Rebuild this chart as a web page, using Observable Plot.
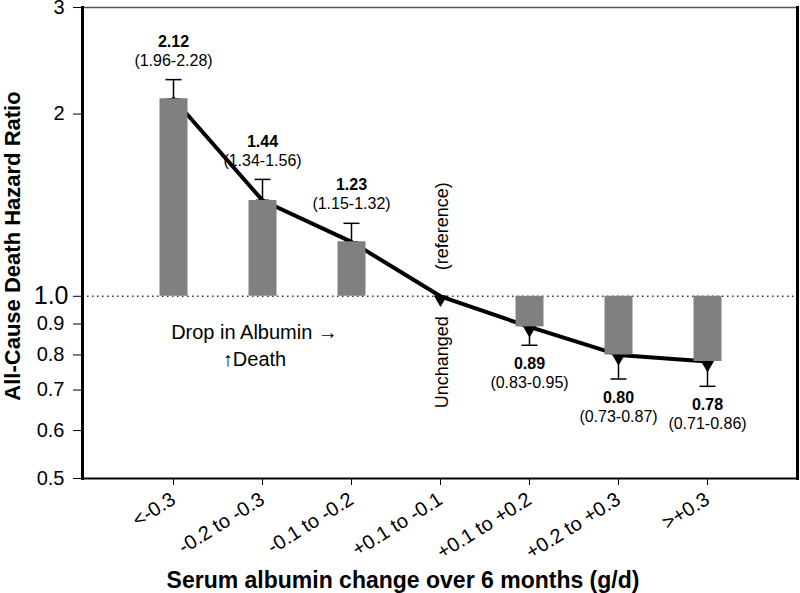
<!DOCTYPE html>
<html>
<head>
<meta charset="utf-8">
<script src="https://cdn.jsdelivr.net/npm/d3@7"></script>
<script src="https://cdn.jsdelivr.net/npm/@observablehq/plot@0.6"></script>
<style>
  html, body { margin: 0; padding: 0; background: #fff; }
  #chart svg { display: block; }
</style>
</head>
<body>
<div id="chart"></div>
<script>
// ---- data ----
const categories = ["<-0.3", "-0.2 to -0.3", "-0.1 to -0.2", "+0.1 to -0.1", "+0.1 to +0.2", "+0.2 to +0.3", ">+0.3"];
const hazardRatio = [2.12, 1.44, 1.23, 1.0, 0.89, 0.80, 0.78];
const ciLow  = [1.96, 1.34, 1.15, null, 0.83, 0.73, 0.71];
const ciHigh = [2.28, 1.56, 1.32, null, 0.95, 0.87, 0.86];
const yTicks = [0.5, 0.6, 0.7, 0.8, 0.9, 1, 2, 3];
const referenceCategory = "+0.1 to -0.1";
const referenceLabel = "(reference)";
const unchangedLabel = "Unchanged";
const noteCategory = "-0.2 to -0.3";
const noteText = "Drop in Albumin \u2192\n\u2191Death";
const xTitle = "Serum albumin change over 6 months (g/d)";
const yTitle = "All-Cause Death Hazard Ratio";

// ---- derived tables ----
const data = categories.map((c, i) => ({cat: c, hr: hazardRatio[i], lo: ciLow[i], hi: ciHigh[i]}));
const bars = data.filter(d => d.lo != null);
const above = bars.filter(d => d.hr > 1);
const below = bars.filter(d => d.hr < 1);
const whiskerEnd = d => d.hr > 1 ? d.hi : d.lo;
const ciText = d => `(${d.lo.toFixed(2)}-${d.hi.toFixed(2)})`;

// horizontal cap symbol for error bars
const capSymbol = {
  draw(context, size) {
    const h = Math.sqrt(size / Math.PI);
    context.moveTo(-h, 0);
    context.lineTo(h, 0);
  }
};

const font = "'Liberation Sans', Arial, Helvetica, sans-serif";

const chart = Plot.plot({
  width: 800,
  height: 593,
  marginLeft: 82,
  marginRight: 3,
  marginTop: 7,
  marginBottom: 115,
  style: {fontFamily: font, background: "#fff", color: "#000"},
  x: {type: "point", domain: categories, padding: 1},
  y: {type: "log", domain: [0.5, 3]},
  marks: [
    Plot.ruleY([1], {stroke: "#333", strokeWidth: 1.5, strokeDasharray: "1.5,3.5"}),
    Plot.line(data, {x: "cat", y: "hr", stroke: "#000", strokeWidth: 4}),
    Plot.dot(data, {x: "cat", y: "hr", symbol: "triangle", r: 5, fill: "#000", rotate: 180, dy: 3}),
    Plot.ruleX(bars, {x: "cat", y1: () => 1, y2: "hr", stroke: "#808080", strokeWidth: 28}),
    Plot.ruleX(bars, {x: "cat", y1: "hr", y2: whiskerEnd, stroke: "#000", strokeWidth: 1.5}),
    Plot.dot(bars, {x: "cat", y: whiskerEnd, symbol: capSymbol, r: 8, stroke: "#000", strokeWidth: 1.5, fill: "none"}),
    // value labels
    Plot.text(above, {x: "cat", y: "hi", text: d => d.hr.toFixed(2), fontWeight: "bold", fontSize: 16, dy: -38}),
    Plot.text(above, {x: "cat", y: "hi", text: ciText, fontSize: 16, dy: -19}),
    Plot.text(below, {x: "cat", y: "lo", text: d => d.hr.toFixed(2), fontWeight: "bold", fontSize: 16, dy: 19}),
    Plot.text(below, {x: "cat", y: "lo", text: ciText, fontSize: 16, dy: 38}),
    // annotations
    Plot.text([referenceLabel], {x: () => referenceCategory, y: () => 1, text: d => d, rotate: -90, fontSize: 18, dy: -70, dx: 2}),
    Plot.text([unchangedLabel], {x: () => referenceCategory, y: () => 1, text: d => d, rotate: -90, fontSize: 18, dy: 66, dx: 2}),
    Plot.text([noteText], {x: () => noteCategory, y: () => 1, text: d => d, fontSize: 20, lineHeight: 1.35, dx: -8, dy: 48}),
    // axes
    Plot.axisX({tickSize: 7, tickRotate: -32, fontSize: 20, tickPadding: 12, label: null}),
    Plot.axisY({ticks: yTicks.filter(t => t !== 1), tickFormat: t => t >= 2 ? String(t) : t.toFixed(1), tickSize: 9, tickPadding: 9, fontSize: 20, label: null}),
    Plot.axisY({ticks: [1], tickFormat: t => t.toFixed(1), tickSize: 9, tickPadding: 5, fontSize: 25, label: null}),
    // frame sides
    Plot.ruleY([3], {stroke: "#555", strokeWidth: 1.5}),
    Plot.frame({anchor: "right", stroke: "#000", strokeWidth: 3}),
    Plot.frame({anchor: "bottom", stroke: "#000", strokeWidth: 2}),
    Plot.frame({anchor: "left", stroke: "#000", strokeWidth: 3}),
    // axis titles
    Plot.text([xTitle], {frameAnchor: "bottom", text: d => d, fontWeight: "bold", fontSize: 23, lineAnchor: "middle", dy: 102, dx: -37}),
    Plot.text([yTitle], {frameAnchor: "left", text: d => d, fontWeight: "bold", fontSize: 22, rotate: -90, textAnchor: "middle", lineAnchor: "middle", dx: -70, dy: 3})
  ]
});
document.getElementById("chart").appendChild(chart);
</script>
</body>
</html>
